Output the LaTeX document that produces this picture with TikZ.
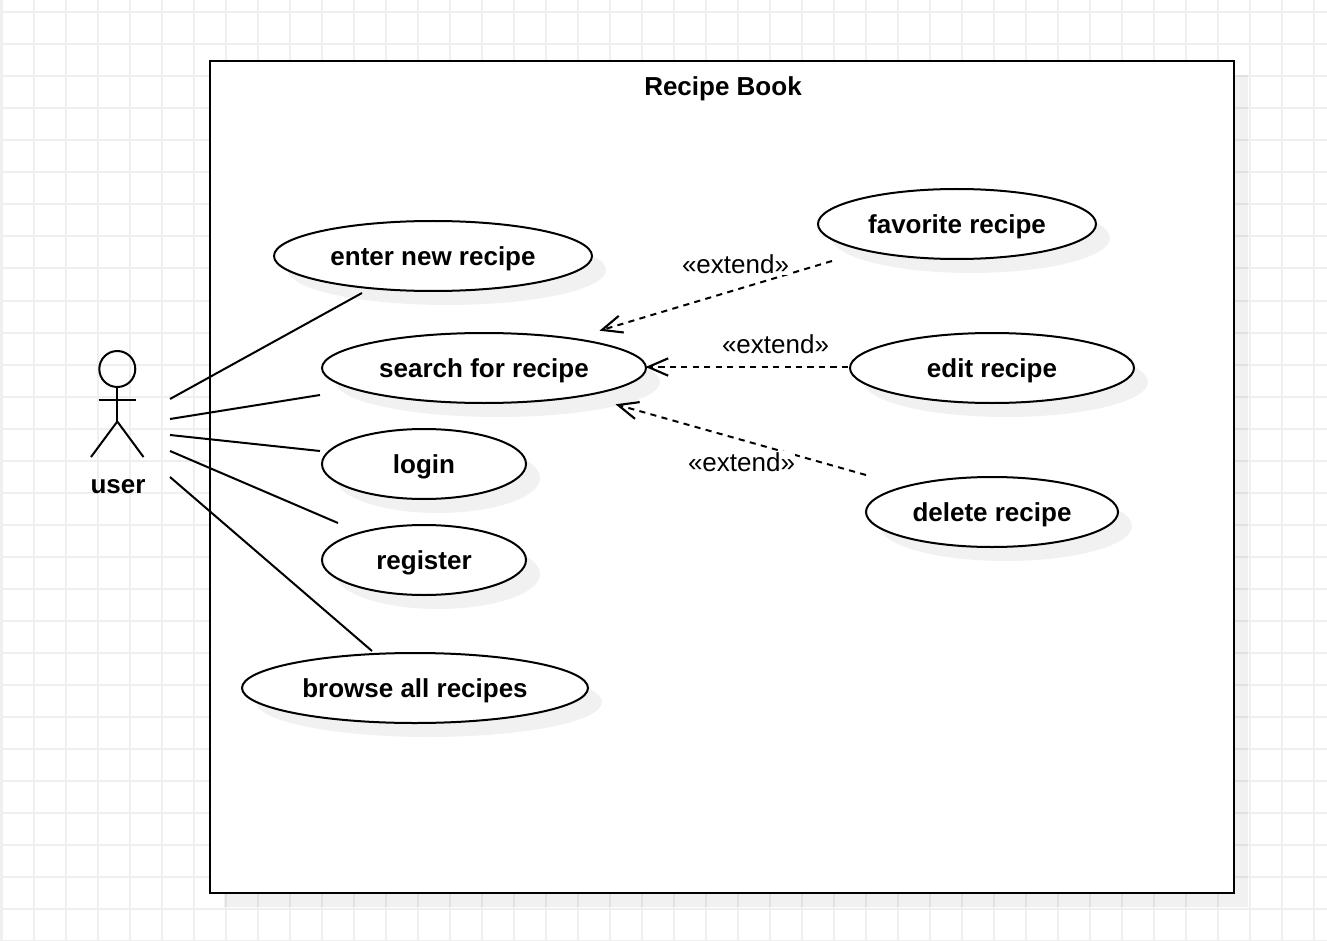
\documentclass[tikz,border=0pt]{standalone}
\usepackage{fontspec}
\setmainfont{Liberation Sans}
\usetikzlibrary{shapes.geometric,shadows,arrows.meta}
\definecolor{gridline}{HTML}{EFEFEF}
\tikzset{
  softshadow/.style={drop shadow={shadow xshift=10.5pt,shadow yshift=-10.5pt,fill=black,opacity=0.055}},
  usecase/.style={ellipse,draw=black,line width=1.5pt,fill=white,inner sep=0pt,softshadow,
    font=\fontsize{19.5pt}{23pt}\selectfont\bfseries,text height=18.5pt,text depth=4pt},
  system/.style={rectangle,draw=black,line width=1.6pt,fill=white,inner sep=0pt,softshadow},
  titletext/.style={font=\fontsize{19.5pt}{23pt}\selectfont\bfseries,inner sep=0pt},
  extendtext/.style={font=\fontsize{19.5pt}{23pt}\selectfont,fill=white,inner xsep=0pt,inner ysep=1pt},
  assoc/.style={line width=1.5pt},
  extendline/.style={line width=1.5pt,dash pattern=on 4.6pt off 4pt,
    -{Straight Barb[length=15pt,width=13pt,line width=1.6pt]}},
  actorline/.style={line width=1.5pt},
  gridrule/.style={gridline,line width=1.5pt}
}
\begin{document}
\begin{tikzpicture}[x=0.75pt,y=-0.75pt]
\useasboundingbox (0,0) rectangle (1327,941);
\fill[white] (0,0) rectangle (1327,941);
\foreach \gx in {0,...,41} {\draw[gridrule] ({1.5+32*\gx},0) -- ({1.5+32*\gx},941);}
\foreach \gy in {0,...,29} {\draw[gridrule] (0,{12.5+32*\gy}) -- (1327,{12.5+32*\gy});}

\node[system,minimum width=768pt,minimum height=624pt] (book) at (722,477) {};
\node[titletext] (booktitle) at (723,89) {Recipe Book};

\node[usecase,minimum width=238.5pt,minimum height=52.5pt] (enter) at (433,256) {enter new recipe};
\node[usecase,minimum width=243pt,minimum height=52.5pt] (search) at (484,368) {search for recipe};
\node[usecase,minimum width=153pt,minimum height=52.5pt] (login) at (424,464) {login};
\node[usecase,minimum width=153pt,minimum height=52.5pt] (register) at (424,560) {register};
\node[usecase,minimum width=259.5pt,minimum height=52.5pt] (browse) at (415,688) {browse all recipes};
\node[usecase,minimum width=208.5pt,minimum height=52.5pt] (favorite) at (957,224) {favorite recipe};
\node[usecase,minimum width=213pt,minimum height=52.5pt] (edit) at (992,368) {edit recipe};
\node[usecase,minimum width=189pt,minimum height=52.5pt] (delete) at (992,512) {delete recipe};

% actor
\node[circle,draw=black,line width=1.5pt,minimum size=27pt,inner sep=0pt] (head) at (117.3,369) {};
\coordinate (hip) at (117.3,421.5);
\coordinate (armL) at (98.5,399.5);
\coordinate (armR) at (136,399.5);
\coordinate (footL) at (91,457);
\coordinate (footR) at (143.5,457);
\draw[actorline] (head.south) -- (hip);
\draw[actorline] (armL) -- (armR);
\draw[actorline] (footL) -- (hip) -- (footR);
\node[titletext] (user) at (118,486.5) {user};

% associations
\coordinate (u1) at (170,399); \coordinate (c1) at (362,293);
\coordinate (u2) at (170,419); \coordinate (c2) at (320,395);
\coordinate (u3) at (170,435); \coordinate (c3) at (320,451);
\coordinate (u4) at (170,451); \coordinate (c4) at (338,523);
\coordinate (u5) at (170,477); \coordinate (c5) at (372,651);
\draw[assoc] (u1) -- (c1);
\draw[assoc] (u2) -- (c2);
\draw[assoc] (u3) -- (c3);
\draw[assoc] (u4) -- (c4);
\draw[assoc] (u5) -- (c5);

% extends
\coordinate (f1) at (832,261); \coordinate (f2) at (599.5,330.7);
\coordinate (e1) at (848,367); \coordinate (e2) at (645.5,367);
\coordinate (d1) at (866,475); \coordinate (d2) at (615.5,404.3);
\draw[extendline] (f1) -- (f2);
\draw[extendline] (e1) -- (e2);
\draw[extendline] (d1) -- (d2);
\node[extendtext] (l1) at (735.5,264) {«extend»};
\node[extendtext] (l2) at (775.5,344) {«extend»};
\node[extendtext] (l3) at (741.5,462) {«extend»};
\end{tikzpicture}
\end{document}
